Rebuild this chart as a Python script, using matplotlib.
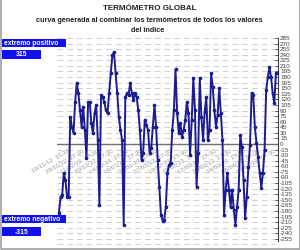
import numpy as np
import matplotlib
matplotlib.use("Agg")
from matplotlib import pyplot as plt
from matplotlib.patches import Rectangle

plt.rcParams['font.family'] = ['Liberation Sans', 'DejaVu Sans']

# Datos (valor del termómetro global en cada toma).
valores = [-185, -142, -137, -78, -97, -142, -142, 72, 45, 29,
           113, 164, 137, 91, 46, 99, 38, -38, 113, 113,
           56, 29, 83, 105, 11, -164, 131, 126, 113, 91,
           83, 137, 190, 239, 247, 190, 137, 72, 38, 11,
           -217, 126, 137, 131, 164, 137, 118, 137, 126, 91,
           38, -43, -24, 64, 51, 38, -24, -11, 46, 105,
           46, -43, -115, -190, -206, -204, -169, -78, -56, -51,
           38, 91, 201, 83, 29, 56, 19, 38, 64, 113,
           83, -29, 64, 177, 91, -115, -24, 177, 72, 11,
           86, 126, 11, 38, 190, 153, 91, 46, 78, 150,
           83, 11, -190, -123, -78, -123, -169, -123, -177, -217,
           -169, -123, 24, -8, -97, -198, -142, -62, -3, 137,
           131, 46, 3, -35, -78, -118, -78, -16, 145, 180,
           206, 180, 137, 110, 190, 190]

fechas = ['19/11/12  17:30', '28/11/12  17:30', '11/12/12  17:30', '20/12/12  17:30',
          '04/01/13  17:30', '16/01/13  17:30', '29/01/13  17:30', '07/02/13  17:30',
          '19/02/13  17:30', '28/02/13  17:30', '12/03/13  17:30', '20/03/13  17:30',
          '28/03/13  17:30', '08/04/13  17:30', '17/04/13  17:30']

extremo_pos = 315
extremo_neg = -315

W, H = 300, 250


def fig_xy(x, y):
    return x / W, 1 - y / H


fig = plt.figure(figsize=(3, 2.5), dpi=100)
fig.patch.set_facecolor('white')
ax = fig.add_axes([57 / W, 0.0, 221 / W, 212 / H])

x = np.arange(len(valores))
ax.plot(x, valores, color='#1c1c90', lw=1.4, marker='o', ms=1.6, zorder=3)
ax.axhline(0, color='#707070', lw=1.0, zorder=2)

ax.set_xlim(-1.2, len(valores) - 0.7)
ax.set_ylim(-285, 285)
ticks = np.arange(-255, 286, 15)
ax.set_yticks(ticks)
ax.set_yticklabels([str(t) for t in ticks], fontsize=4.6, color='#404040')
ax.yaxis.tick_right()
ax.tick_params(axis='y', direction='in', length=2, width=0.6, color='#404040', pad=1.5)
ax.set_xticks([])
for s in ['top', 'left', 'bottom']:
    ax.spines[s].set_visible(False)
ax.spines['right'].set_color('#404040')
ax.spines['right'].set_linewidth(0.8)
ax.spines['right'].set_bounds(-262, 285)
ax.grid(axis='y', color='#d0d0d0', lw=0.7, linestyle=(0, (6, 4)), zorder=0)
for g in [-270]:
    ax.axhline(g, xmax=0.985, color='#d0d0d0', lw=0.7, linestyle=(0, (6, 4)), zorder=0)

# Etiquetas de fecha dentro del gráfico, bajo la línea cero.
pos = np.linspace(5.5, len(valores) - 3.5, len(fechas))
for p, f in zip(pos, fechas):
    ax.text(p, -12, f, rotation=30, rotation_mode='anchor', ha='right', va='top',
            fontsize=4.5, color='#9a9a9a', zorder=1)

# Títulos.
fig.text(*fig_xy(150, 9), 'TERMÓMETRO GLOBAL', ha='center', va='center',
         fontsize=5.8, fontweight='bold', color='#202020')
fig.text(*fig_xy(149, 20), 'curva generada al combinar los termómetros de todos los valores',
         ha='center', va='center', fontsize=5.2, fontweight='bold', color='#202020')
fig.text(*fig_xy(148, 30), 'del índice', ha='center', va='center',
         fontsize=5.2, fontweight='bold', color='#202020')

# Cajas de extremos.
def caja(x0, y0, x1, y1, texto, centrado):
    fig.patches.append(Rectangle(fig_xy(x0, y1), (x1 - x0) / W, (y1 - y0) / H,
                                 transform=fig.transFigure, facecolor='#1010f0',
                                 edgecolor='none', zorder=5))
    if centrado:
        fig.text(*fig_xy((x0 + x1) / 2, (y0 + y1) / 2 + 0.5), texto, ha='center', va='center',
                 fontsize=4.9, fontweight='bold', color='white', zorder=6)
    else:
        fig.text(*fig_xy(x0 + 2, (y0 + y1) / 2 + 0.5), texto, ha='left', va='center',
                 fontsize=4.9, fontweight='bold', color='white', zorder=6)


caja(2, 39, 66, 47, 'extremo positivo', False)
caja(2, 50, 41, 59, str(extremo_pos), True)
caja(2, 215, 66, 223, 'extremo negativo', False)
caja(2, 227, 41, 236, str(extremo_neg), True)

# Marco gris exterior.
fig.lines.append(plt.Line2D([0.5 / W, 0.5 / W, 1 - 0.5 / W, 1 - 0.5 / W],
                            [1, 1.5 / H, 1.5 / H, 1], transform=fig.transFigure,
                            color='#a0a0a0', lw=1.2))

fig.savefig('out.png', dpi=100)
